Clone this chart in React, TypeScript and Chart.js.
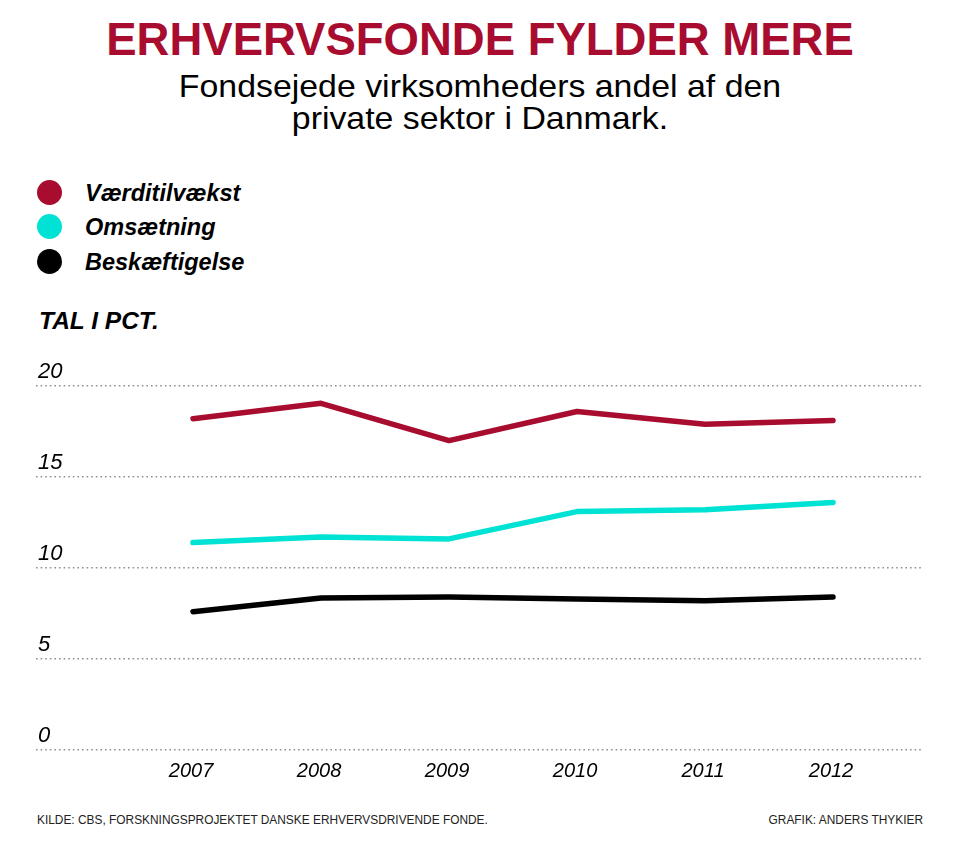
import React, { useEffect, useRef } from 'react';
import { Chart, registerables } from 'chart.js';

Chart.register(...registerables);

const years = [2007, 2008, 2009, 2010, 2011, 2012];
const vaerditilvaekst = [18.2, 19.05, 17.0, 18.6, 17.9, 18.1];
const omsaetning = [11.4, 11.7, 11.6, 13.1, 13.2, 13.6];
const beskaeftigelse = [7.6, 8.35, 8.4, 8.3, 8.2, 8.4];
const yTicks = [0, 5, 10, 15, 20];
const seriesNames = ['Værditilvækst', 'Omsætning', 'Beskæftigelse'];
const seriesColors = ['#A80C2F', '#00E2D4', '#000000'];
const seriesValues = [vaerditilvaekst, omsaetning, beskaeftigelse];

const FONT = '"Liberation Sans", Arial, Helvetica, sans-serif';

export default function App() {
  const ref = useRef<HTMLCanvasElement | null>(null);

  useEffect(() => {
    if (!ref.current) return;
    const chart = new Chart(ref.current, {
      type: 'line',
      data: {
        datasets: seriesNames.map((name, i) => ({
          label: name,
          data: years.map((y, j) => ({ x: y, y: seriesValues[i][j] })),
          borderColor: seriesColors[i],
          backgroundColor: seriesColors[i],
          borderWidth: 5.5,
          borderCapStyle: 'round' as const,
          borderJoinStyle: 'round' as const,
          pointRadius: 0,
          tension: 0,
          fill: false,
        })),
      },
      options: {
        responsive: false,
        animation: false,
        layout: { padding: { left: 36, right: 38, top: 46, bottom: 10 } },
        plugins: { legend: { display: false }, tooltip: { enabled: false }, title: { display: false } },
        scales: {
          x: {
            type: 'linear',
            min: 2005.7734,
            max: 2012.6953,
            afterBuildTicks: (s: any) => {
              s.ticks = years.map((v) => ({ value: v }));
            },
            afterFit: (s: any) => {
              s.height = 40;
            },
            grid: { display: false, drawTicks: false },
            border: { display: false },
            ticks: {
              padding: 9,
              labelOffset: -2,
              color: '#000',
              font: { family: FONT, size: 20, style: 'italic' },
              callback: (v: any) => String(v),
            },
          },
          y: {
            type: 'linear',
            min: 0,
            max: 20,
            afterBuildTicks: (s: any) => {
              s.ticks = yTicks.map((v) => ({ value: v }));
            },
            afterFit: (s: any) => {
              s.width = 0;
            },
            grid: { color: '#8f8f8f', lineWidth: 1.6, drawTicks: false },
            border: { display: false, dash: [1.6, 3] },
            ticks: {
              mirror: true,
              padding: 2,
              labelOffset: -14,
              color: '#000',
              font: { family: FONT, size: 22, style: 'italic' },
            },
          },
        },
      },
    });
    return () => chart.destroy();
  }, []);

  const legendBase = [200.7, 235, 269.7];

  return (
    <div style={{ position: 'absolute', left: 0, top: 0, width: 960, height: 849, background: '#fff', fontFamily: FONT, overflow: 'hidden' }}>
      <div style={{ position: 'absolute', left: 0, top: 13.8, width: 960, textAlign: 'center', fontSize: 45.5, fontWeight: 'bold', color: '#A80C2F', lineHeight: 'normal', whiteSpace: 'nowrap' }}>
        ERHVERVSFONDE FYLDER MERE
      </div>
      <div style={{ position: 'absolute', left: 0, top: 70.2, width: 960, textAlign: 'center', fontSize: 31.5, lineHeight: '32px', color: '#000', transform: 'scaleX(1.075)', transformOrigin: '480px 0' }}>
        Fondsejede virksomheders andel af den
        <br />
        private sektor i Danmark.
      </div>
      {seriesNames.map((name, i) => (
        <React.Fragment key={name}>
          <div style={{ position: 'absolute', left: 36.6, top: legendBase[i] - 8.5 - 12.7, width: 25.4, height: 25.4, borderRadius: '50%', background: seriesColors[i] }} />
          <div style={{ position: 'absolute', left: 85, top: legendBase[i] - 21.2, fontSize: 23.5, fontWeight: 'bold', fontStyle: 'italic', lineHeight: 'normal', whiteSpace: 'nowrap', color: '#000' }}>
            {name}
          </div>
        </React.Fragment>
      ))}
      <div style={{ position: 'absolute', left: 39, top: 307.1, fontSize: 24.5, fontWeight: 'bold', fontStyle: 'italic', lineHeight: 'normal', whiteSpace: 'nowrap', color: '#000' }}>
        TAL I PCT.
      </div>
      <canvas ref={ref} width={960} height={460} style={{ position: 'absolute', left: 0, top: 340, width: 960, height: 460 }} />
      <div style={{ position: 'absolute', left: 37, top: 812.7, fontSize: 11.9, lineHeight: 'normal', whiteSpace: 'nowrap', color: '#222' }}>
        KILDE: CBS, FORSKNINGSPROJEKTET DANSKE ERHVERVSDRIVENDE FONDE.
      </div>
      <div style={{ position: 'absolute', right: 37, top: 812.7, fontSize: 11.9, lineHeight: 'normal', whiteSpace: 'nowrap', color: '#222' }}>
        GRAFIK: ANDERS THYKIER
      </div>
    </div>
  );
}
